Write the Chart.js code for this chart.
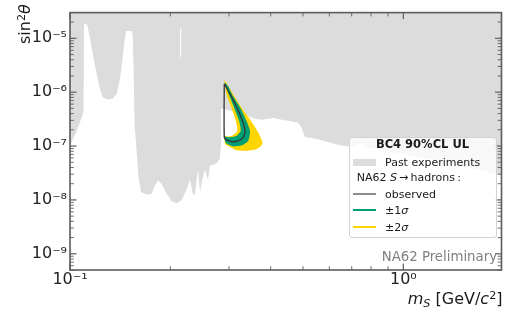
<!DOCTYPE html>
<html><head><meta charset="utf-8">
<script src="https://cdn.jsdelivr.net/npm/chart.js@4.4.1/dist/chart.umd.min.js"></script>
<style>
html,body{margin:0;padding:0;background:#fff;}
#wrap{position:relative;width:509px;height:311px;overflow:hidden;font-family:'DejaVu Sans',sans-serif;color:#1a1a1a;}
#c{position:absolute;left:0;top:0;}
.t{position:absolute;white-space:nowrap;}
.t sup,.t sub{font-size:0.7em;line-height:0;}
.t sup{vertical-align:0.45em;}
.t sub{vertical-align:-0.3em;}
#legend{position:absolute;left:349px;top:136.7px;width:147.7px;height:101.6px;box-sizing:border-box;border:1px solid #d2d2d2;border-radius:3px;background:rgba(255,255,255,0.8);}
.sw{position:absolute;}
</style></head>
<body>
<div id="wrap">
<canvas id="c" width="509" height="311"></canvas>
<div id="legend"></div>
<div class="t" style="left:422.5px;top:139.3px;font-size:11.5px;line-height:11.5px;font-weight:bold;transform:translateX(-50%);">BC4 90%CL UL</div>
<div class="sw" style="left:353px;top:159px;width:23px;height:7px;background:#dcdcdc;"></div>
<div class="t" style="left:385px;top:156.7px;font-size:11px;line-height:11px;">Past experiments</div>
<div class="t" style="left:356.7px;top:172.4px;font-size:11px;line-height:11px;">NA62 <i>S</i>&#8201;→&#8201;hadrons&#8201;:</div>
<div class="sw" style="left:353px;top:193px;width:23px;height:2px;background:#8c8c8c;"></div>
<div class="t" style="left:385px;top:189px;font-size:11px;line-height:11px;">observed</div>
<div class="sw" style="left:353px;top:209px;width:23px;height:2px;background:#00a077;"></div>
<div class="t" style="left:385px;top:204.7px;font-size:11px;line-height:11px;">±1<i>σ</i></div>
<div class="sw" style="left:353px;top:226px;width:23px;height:2px;background:#ffd500;"></div>
<div class="t" style="left:385px;top:221.7px;font-size:11px;line-height:11px;">±2<i>σ</i></div>
<div class="t" style="left:497px;top:250.4px;font-size:13.3px;line-height:13.3px;color:#808080;transform:translateX(-100%);">NA62 Preliminary</div>
<div class="t" style="left:502.5px;top:290.5px;font-size:16px;line-height:16px;transform:translateX(-100%);"><i>m</i><sub><i>S</i></sub> [GeV/<i>c</i><sup>2</sup>]</div>
<div class="t" style="left:16.5px;top:44px;font-size:16px;line-height:16px;transform:rotate(-90deg);transform-origin:left top;">sin<sup>2</sup><i>θ</i></div>
</div>
<script>
// ---- data ----
const pastMass = [0.1, 0.1047, 0.1092, 0.1098, 0.1102, 0.1127, 0.1148, 0.1175, 0.1203, 0.1230,
  0.1256, 0.1300, 0.1346, 0.1381, 0.1413, 0.1439, 0.1462, 0.1472, 0.1531, 0.1542,
  0.1551, 0.1562, 0.1586, 0.1606, 0.1633, 0.1699, 0.1758, 0.1799, 0.1837, 0.1884,
  0.1950, 0.2020, 0.2090, 0.2164, 0.2240, 0.2291, 0.2334, 0.2371, 0.2399, 0.2421,
  0.2455, 0.2484, 0.2523, 0.2538, 0.2594, 0.2630, 0.2754, 0.2818, 0.2838, 0.2838,
  0.3236, 0.3589, 0.3767, 0.4064, 0.4831, 0.4932, 0.5070, 0.5498, 0.6457, 0.6918,
  0.7517, 0.7834, 0.9772, 1.288, 1.585, 1.97];
const pastSin2 = [1.0e-7, 1.9e-7, 3.8e-7, 4.5e-7, 1.9e-5, 1.77e-5, 1.0e-5, 4.5e-6, 2.13e-6, 1.15e-6,
  7.9e-7, 7.3e-7, 7.6e-7, 9.4e-7, 1.74e-6, 4.5e-6, 1.0e-5, 1.38e-5, 1.35e-5, 1.16e-5,
  2.96e-6, 2.5e-7, 7.3e-8, 2.6e-8, 1.4e-8, 1.25e-8, 1.3e-8, 1.87e-8, 2.3e-8, 1.97e-8,
  1.3e-8, 9.3e-9, 8.7e-9, 1.0e-8, 1.6e-8, 2.4e-8, 1.3e-8, 1.24e-8, 2.4e-8, 3.7e-8,
  1.4e-8, 2.1e-8, 3.2e-8, 3.6e-8, 2.4e-8, 4.3e-8, 4.8e-8, 5.9e-8, 1.1e-7, 5.0e-7,
  4.1e-7, 3.2e-7, 3.08e-7, 3.3e-7, 2.7e-7, 2.3e-7, 1.47e-7, 1.35e-7, 1.03e-7, 9.7e-8,
  1.15e-7, 9.3e-8, 7.3e-8, 5.2e-8, 3.9e-8, 2.9e-8];
const gapMass = [0.2148, 0.2148];
const gapSin2 = [1.54e-5, 4.5e-6];

const obsMass = [0.2911, 0.2969, 0.3041, 0.3176, 0.3296, 0.3350, 0.3311, 0.3176, 0.3055, 0.2952, 0.2903, 0.2903, 0.2911];
const obsSin2 = [1.41e-6, 1.10e-6, 8.63e-7, 4.99e-7, 2.87e-7, 1.90e-7, 1.45e-7, 1.23e-7, 1.21e-7, 1.30e-7, 1.45e-7, 1.41e-6, 1.41e-6];

const sigma1Mass = [0.2906, 0.2979, 0.3077, 0.3251, 0.3390, 0.3467, 0.3427, 0.3274, 0.3090, 0.2952, 0.2917,
  0.2917, 0.3020, 0.3163, 0.3251, 0.3220, 0.3111, 0.3006, 0.2948, 0.2906];
const sigma1Sin2 = [1.53e-6, 1.30e-6, 8.63e-7, 4.99e-7, 2.87e-7, 1.90e-7, 1.26e-7, 1.03e-7, 9.84e-8, 1.10e-7, 1.26e-7,
  1.49e-7, 1.45e-7, 1.55e-7, 1.90e-7, 2.87e-7, 4.99e-7, 8.63e-7, 1.20e-6, 1.53e-6];

const sigma2Mass = [0.2897, 0.2938, 0.3020, 0.3126, 0.3236, 0.3390, 0.3548, 0.3672, 0.3759, 0.3775, 0.3715,
  0.3589, 0.3390, 0.3163, 0.3020, 0.2917,
  0.2917, 0.2979, 0.3083, 0.3176, 0.3148, 0.3055, 0.2952, 0.2927, 0.2906, 0.2897];
const sigma2Sin2 = [1.67e-6, 1.53e-6, 1.16e-6, 8.04e-7, 5.71e-7, 3.79e-7, 2.51e-7, 1.78e-7, 1.30e-7, 1.10e-7, 9.60e-8,
  8.59e-8, 8.14e-8, 8.34e-8, 9.60e-8, 1.10e-7,
  1.53e-7, 1.50e-7, 1.59e-7, 1.90e-7, 2.87e-7, 4.99e-7, 8.63e-7, 1.20e-6, 1.53e-6, 1.67e-6];

const xTickValues = [0.1, 1];
const xTickLabels = ['10⁻¹', '10⁰'];
const yTickValues = [1e-9, 1e-8, 1e-7, 1e-6, 1e-5];
const yTickLabels = ['10⁻⁹', '10⁻⁸', '10⁻⁷', '10⁻⁶', '10⁻⁵'];

const xRange = [0.1, 1.97];
const yRange = [5e-10, 3e-5];

// ---- helpers ----
const pts = (xs, ys) => xs.map((x, i) => ({x: x, y: ys[i]}));
const near = (a, b) => Math.abs(Math.log10(a) - Math.log10(b)) < 1e-6;
const labelFor = (vals, labs) => v => { const i = vals.findIndex(t => near(t, v)); return i >= 0 ? labs[i] : ''; };
const isDecade = v => Math.abs(Math.log10(v) - Math.round(Math.log10(v))) < 1e-6;
const isIntMult = v => { const e = Math.floor(Math.log10(v) + 1e-9); const s = v / Math.pow(10, e); return Math.abs(s - Math.round(s)) < 1e-6; };

const frameTicks = {
  id: 'frameTicks',
  afterDatasetsDraw(chart) {
    const {ctx, chartArea: a, scales: {x, y}} = chart;
    ctx.save();
    ctx.strokeStyle = '#5c5c5c';
    const seg = (x1, y1, x2, y2, w) => { ctx.lineWidth = w; ctx.beginPath(); ctx.moveTo(x1, y1); ctx.lineTo(x2, y2); ctx.stroke(); };
    x.ticks.forEach(t => {
      if (!isIntMult(t.value)) return;
      const p = x.getPixelForValue(t.value);
      if (p < a.left - 0.5 || p > a.right + 0.5) return;
      const maj = isDecade(t.value), L = maj ? 6.5 : 3.8, w = maj ? 1.2 : 0.9;
      seg(p, a.bottom, p, a.bottom - L, w);
      seg(p, a.top, p, a.top + L, w);
    });
    y.ticks.forEach(t => {
      if (!isIntMult(t.value)) return;
      const p = y.getPixelForValue(t.value);
      if (p < a.top - 0.5 || p > a.bottom + 0.5) return;
      const maj = isDecade(t.value), L = maj ? 6.5 : 3.8, w = maj ? 1.2 : 0.9;
      seg(a.left, p, a.left + L, p, w);
      seg(a.right, p, a.right - L, p, w);
    });
    ctx.lineWidth = 1.6;
    ctx.strokeRect(a.left, a.top, a.right - a.left, a.bottom - a.top);
    ctx.restore();
  }
};

const tickFont = {family: "'DejaVu Sans'", size: 16};

new Chart(document.getElementById('c'), {
  type: 'scatter',
  data: {
    datasets: [
      {label: 'observed', data: pts(obsMass, obsSin2), showLine: true, borderColor: '#333333', borderWidth: 1.3, pointRadius: 0, fill: false, tension: 0.2, order: 0},
      {label: '±1σ', data: pts(sigma1Mass, sigma1Sin2), showLine: true, borderWidth: 0, borderColor: 'rgba(0,0,0,0)', backgroundColor: '#00a077', pointRadius: 0, fill: 'shape', tension: 0.2, order: 1},
      {label: '±2σ', data: pts(sigma2Mass, sigma2Sin2), showLine: true, borderWidth: 0, borderColor: 'rgba(0,0,0,0)', backgroundColor: '#ffd500', pointRadius: 0, fill: 'shape', tension: 0.2, order: 2},
      {label: 'gap', data: pts(gapMass, gapSin2), showLine: true, borderColor: 'rgba(255,255,255,0.55)', borderWidth: 1, pointRadius: 0, fill: false, order: 3},
      {label: 'Past experiments', data: pts(pastMass, pastSin2), showLine: true, borderWidth: 0, borderColor: 'rgba(0,0,0,0)', backgroundColor: '#dcdcdc', pointRadius: 0, fill: 'end', tension: 0, order: 4}
    ]
  },
  options: {
    responsive: false,
    animation: false,
    devicePixelRatio: 1,
    layout: {padding: {left: 0, right: 7.5, top: 4.3, bottom: 0}},
    plugins: {legend: {display: false}, tooltip: {enabled: false}},
    scales: {
      x: {
        type: 'logarithmic', min: xRange[0], max: xRange[1],
        grid: {display: false, drawTicks: false}, border: {display: false},
        ticks: {autoSkip: false, maxRotation: 0, minRotation: 0, padding: 0, font: tickFont, color: '#222',
          callback: labelFor(xTickValues, xTickLabels)},
        afterFit: s => { s.height = 41; }
      },
      y: {
        type: 'logarithmic', min: yRange[0], max: yRange[1],
        grid: {display: false, drawTicks: false}, border: {display: false},
        ticks: {autoSkip: false, padding: 3, font: tickFont, color: '#222',
          callback: labelFor(yTickValues, yTickLabels)},
        afterFit: s => { s.width = 70; }
      }
    }
  },
  plugins: [frameTicks]
});
</script>
</body></html>
